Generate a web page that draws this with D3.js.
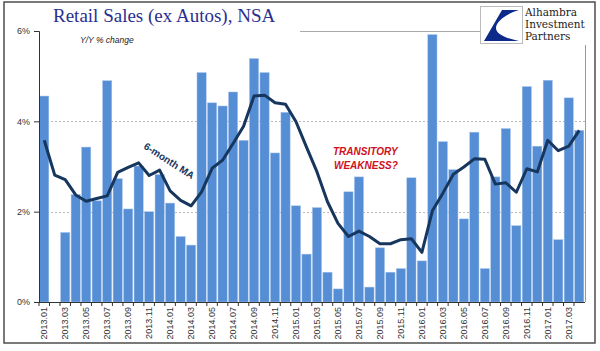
<!DOCTYPE html>
<html>
<head>
<meta charset="utf-8">
<script src="https://cdn.jsdelivr.net/npm/d3@7"></script>
<style>
  body { margin: 0; background: #fff; }
  svg { display: block; }
</style>
</head>
<body>
<div id="chart"></div>
<script>
const width = 600, height = 351;
const margin = { left: 39, right: 15, top: 31, bottom: 49 };

// monthly categories
const months = [
  "2013.01","2013.02","2013.03","2013.04","2013.05","2013.06","2013.07","2013.08","2013.09","2013.10","2013.11","2013.12",
  "2014.01","2014.02","2014.03","2014.04","2014.05","2014.06","2014.07","2014.08","2014.09","2014.10","2014.11","2014.12",
  "2015.01","2015.02","2015.03","2015.04","2015.05","2015.06","2015.07","2015.08","2015.09","2015.10","2015.11","2015.12",
  "2016.01","2016.02","2016.03","2016.04","2016.05","2016.06","2016.07","2016.08","2016.09","2016.10","2016.11","2016.12",
  "2017.01","2017.02","2017.03","2017.04"
];

// Y/Y % change, retail sales ex autos
const yoy = [
  4.56, 0.00, 1.54, 2.38, 3.43, 2.24, 4.90, 2.73, 2.06, 3.01, 2.00, 2.82,
  2.19, 1.45, 1.26, 5.08, 4.41, 4.34, 4.65, 3.58, 5.39, 5.08, 3.30, 4.20,
  2.13, 1.06, 2.09, 0.66, 0.29, 2.44, 2.77, 0.33, 1.20, 0.66, 0.74, 2.75,
  0.91, 5.92, 3.55, 2.93, 1.84, 3.76, 0.74, 2.77, 3.84, 1.69, 4.77, 3.45,
  4.91, 1.38, 4.52, 3.80
];

// 6-month moving average
const ma6 = [
  3.58, 2.81, 2.71, 2.37, 2.23, 2.29, 2.35, 2.87, 2.98, 3.08, 2.80, 2.92,
  2.46, 2.25, 2.13, 2.44, 2.96, 3.14, 3.51, 3.89, 4.56, 4.58, 4.41, 4.38,
  3.99, 3.43, 2.88, 2.22, 1.74, 1.45, 1.57, 1.45, 1.29, 1.29, 1.38, 1.40,
  1.10, 2.02, 2.41, 2.83, 2.99, 3.17, 3.16, 2.61, 2.64, 2.43, 2.95, 2.88,
  3.58, 3.35, 3.45, 3.80
];

const yTicks = [0, 2, 4, 6];
const gridTicks = [2, 4];

const svg = d3.select("#chart").append("svg")
  .attr("width", width)
  .attr("height", height);

// outer frame
svg.append("rect")
  .attr("x", 4).attr("y", 2)
  .attr("width", 591).attr("height", 341)
  .attr("fill", "#fff")
  .attr("stroke", "#4d4d4d")
  .attr("stroke-width", 1.5);

const x = d3.scaleBand()
  .domain(months)
  .range([margin.left, width - margin.right - 0.5])
  .paddingInner(0.12)
  .paddingOuter(0.06);

const y = d3.scaleLinear()
  .domain([0, 6])
  .range([height - margin.bottom, margin.top]);

// gridlines
svg.append("g")
  .selectAll("line")
  .data(gridTicks)
  .join("line")
  .attr("x1", margin.left)
  .attr("x2", width - margin.right)
  .attr("y1", d => Math.round(y(d)) + 0.5)
  .attr("y2", d => Math.round(y(d)) + 0.5)
  .attr("stroke", "#b8b8b8")
  .attr("stroke-dasharray", "2,2");

// bars
svg.append("g")
  .selectAll("rect")
  .data(yoy)
  .join("rect")
  .attr("x", (d, i) => x(months[i]))
  .attr("y", d => y(d))
  .attr("width", x.bandwidth())
  .attr("height", d => y(0) - y(d))
  .attr("fill", "#558ed5")
  .attr("stroke", "#a9c6ec")
  .attr("stroke-width", 0.5);

// moving average line
const line = d3.line()
  .x((d, i) => x(months[i]) + x.bandwidth() / 2)
  .y(d => y(d));

svg.append("path")
  .datum(ma6)
  .attr("d", line)
  .attr("fill", "none")
  .attr("stroke", "#17365d")
  .attr("stroke-width", 3)
  .attr("stroke-linejoin", "round");

// y axis
const yAxis = svg.append("g")
  .attr("transform", `translate(${margin.left},0)`)
  .call(d3.axisLeft(y).tickValues(yTicks).tickFormat(d => d + "%").tickSize(5).tickPadding(4));
yAxis.select(".domain").attr("stroke", "#333");
yAxis.selectAll(".tick line").attr("stroke", "#333");
yAxis.selectAll("text")
  .attr("font-family", "Liberation Sans, Arial, sans-serif")
  .attr("font-size", 9)
  .attr("fill", "#333");

// x axis: line, tick marks at every band edge, labels every other month
const x0 = margin.left, x1 = width - margin.right;
svg.append("line")
  .attr("x1", x0).attr("x2", x1)
  .attr("y1", y(0) + 0.5).attr("y2", y(0) + 0.5)
  .attr("stroke", "#333");

const step = x.step();
svg.append("g")
  .selectAll("line")
  .data(months)
  .join("line")
  .attr("x1", d => x(d) - step * x.paddingInner() / 2)
  .attr("x2", d => x(d) - step * x.paddingInner() / 2)
  .attr("y1", y(0))
  .attr("y2", y(0) + 4)
  .attr("stroke", "#333");

svg.append("g")
  .selectAll("text")
  .data(months.filter((d, i) => i % 2 === 0))
  .join("text")
  .attr("transform", d => `translate(${x(d) + x.bandwidth() / 2 + 3},${y(0) + 5}) rotate(-90)`)
  .attr("text-anchor", "end")
  .attr("font-family", "Liberation Sans, Arial, sans-serif")
  .attr("font-size", 9)
  .attr("fill", "#333")
  .text(d => d);

// right edge line
svg.append("line")
  .attr("x1", x1 + 0.5).attr("x2", x1 + 0.5)
  .attr("y1", 45).attr("y2", y(0))
  .attr("stroke", "#999");

// top line at 6%
svg.append("line")
  .attr("x1", 300).attr("x2", 480)
  .attr("y1", Math.round(y(6)) + 0.5).attr("y2", Math.round(y(6)) + 0.5)
  .attr("stroke", "#aaa");

// title
svg.append("text")
  .attr("x", 53).attr("y", 22)
  .attr("font-family", "Liberation Serif, DejaVu Serif, serif")
  .attr("font-size", 19)
  .attr("fill", "#2b2f8f")
  .text("Retail Sales (ex Autos), NSA");

svg.append("text")
  .attr("x", 80).attr("y", 43)
  .attr("font-family", "Liberation Sans, Arial, sans-serif")
  .attr("font-style", "italic")
  .attr("font-size", 8.5)
  .attr("fill", "#222")
  .text("Y/Y % change");

// annotations
svg.append("text")
  .attr("transform", "translate(143,148) rotate(33)")
  .attr("font-family", "Liberation Sans, Arial, sans-serif")
  .attr("font-weight", "bold")
  .attr("font-size", 10)
  .attr("fill", "#17365d")
  .text("6-month MA");

const note = svg.append("text")
  .attr("font-family", "Liberation Sans, Arial, sans-serif")
  .attr("font-weight", "bold")
  .attr("font-style", "italic")
  .attr("font-size", 10)
  .attr("fill", "#d0101c");
note.append("tspan").attr("x", 333).attr("y", 155).text("TRANSITORY");
note.append("tspan").attr("x", 334).attr("y", 169).text("WEAKNESS?");

// logo
const logo = svg.append("g");
logo.append("rect")
  .attr("x", 480.5).attr("y", 6.5)
  .attr("width", 42).attr("height", 37)
  .attr("fill", "#fff")
  .attr("stroke", "#bbb");
logo.append("path")
  .attr("d", "M484,41 L502,10 L519,10 C505,14 496,22 496,28 C496,34 505,38 519,41 Z")
  .attr("fill", "#0b2a8a");
logo.selectAll("text")
  .data(["Alhambra", "Investment", "Partners"])
  .join("text")
  .attr("x", 525)
  .attr("y", (d, i) => 16 + i * 12)
  .attr("font-family", "DejaVu Serif, Liberation Serif, serif")
  .attr("font-size", 10.5)
  .attr("fill", "#222")
  .text(d => d);
</script>
</body>
</html>
